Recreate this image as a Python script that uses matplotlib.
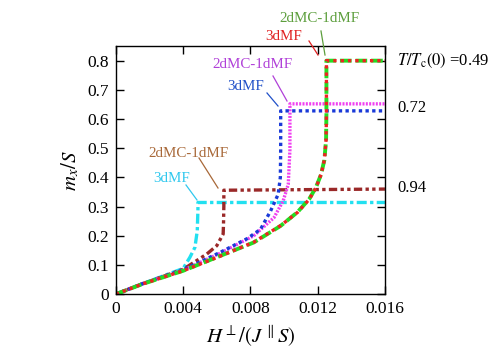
import matplotlib
matplotlib.use("Agg")
import matplotlib.pyplot as plt
import numpy as np

plt.rcParams['font.family'] = ['Liberation Serif', 'DejaVu Serif']
plt.rcParams['mathtext.fontset'] = 'stix'

# T/Tc(0) = 0.49
h_049_mf = [0, 0.0016, 0.004, 0.0062, 0.0082, 0.0098, 0.0108, 0.0115, 0.0119, 0.0122, 0.0124, 0.0125, 0.01252, 0.01252, 0.016]
m_049_mf = [0, 0.035, 0.080, 0.130, 0.178, 0.235, 0.280, 0.325, 0.365, 0.410, 0.460, 0.530, 0.620, 0.8, 0.8]
h_049_mc = [0, 0.0016, 0.004, 0.0062, 0.0082, 0.0098, 0.0108, 0.0115, 0.0119, 0.0122, 0.0124, 0.0125, 0.01252, 0.01252, 0.016]
m_049_mc = [0, 0.035, 0.080, 0.131, 0.177, 0.234, 0.281, 0.326, 0.366, 0.410, 0.460, 0.530, 0.620, 0.8, 0.8]

# T/Tc(0) = 0.72
h_072_mf = [0, 0.0016, 0.004, 0.0062, 0.0078, 0.0086, 0.0092, 0.00965, 0.00978, 0.0098, 0.0098, 0.016]
m_072_mf = [0, 0.036, 0.083, 0.143, 0.190, 0.222, 0.285, 0.342, 0.400, 0.495, 0.628, 0.628]
h_072_mc = [0, 0.0016, 0.004, 0.0062, 0.0082, 0.0094, 0.00995, 0.01025, 0.01035, 0.01035, 0.016]
m_072_mc = [0, 0.036, 0.082, 0.140, 0.200, 0.262, 0.320, 0.376, 0.495, 0.652, 0.652]

# T/Tc(0) = 0.94
h_094_mf = [0, 0.0016, 0.004, 0.0044, 0.0047, 0.00484, 0.00488, 0.00488, 0.016]
m_094_mf = [0, 0.036, 0.088, 0.126, 0.160, 0.217, 0.290, 0.314, 0.314]
h_094_mc = [0, 0.0016, 0.004, 0.0054, 0.006, 0.00638, 0.0064, 0.00642, 0.00642, 0.016]
m_094_mc = [0, 0.036, 0.085, 0.137, 0.166, 0.206, 0.240, 0.300, 0.356, 0.360]

fig = plt.figure(figsize=(4.91, 3.6), dpi=100)
ax = fig.add_axes([0.236, 0.183, 0.548, 0.689])

lw = 2.4
ax.plot(h_094_mf, m_094_mf, color='#22e0f0', lw=lw, linestyle=(0, (3, 1, 1, 1)))
ax.plot(h_094_mc, m_094_mc, color='#9a2828', lw=lw, linestyle=(0, (2.5, 1, 1, 1, 1, 1)))
ax.plot(h_072_mc, m_072_mc, color='#f040f0', lw=lw, linestyle=(0, (0.6, 0.4)))
ax.plot(h_072_mf, m_072_mf, color='#1a3ad8', lw=lw, linestyle=(0, (1, 1)))
ax.plot(h_049_mc, m_049_mc, color='#22dd22', lw=lw + 0.4, linestyle=(0, (3, 1)))
ax.plot(h_049_mf, m_049_mf, color='#ee2222', lw=lw, linestyle=(0, (1, 1.2)))

ax.set_xlim(0, 0.016)
ax.set_ylim(0, 0.85)
ax.set_xticks([0, 0.004, 0.008, 0.012, 0.016])
ax.set_xticklabels(['0', '0.004', '0.008', '0.012', '0.016'])
ax.set_yticks([0, 0.1, 0.2, 0.3, 0.4, 0.5, 0.6, 0.7, 0.8])
ax.set_yticklabels(['0', '0.1', '0.2', '0.3', '0.4', '0.5', '0.6', '0.7', '0.8'])
ax.tick_params(direction='in', top=True, right=True, length=6, width=1, labelsize=12.5, pad=5)
for s in ax.spines.values():
    s.set_linewidth(1)

ax.set_xlabel(r'$H^{\perp}/(J^{\,\parallel}S)$', fontsize=15, labelpad=5)
ax.set_ylabel(r'$m_x/S$', fontsize=15, labelpad=4)

def px(x, y):
    return (x / 491.0, 1 - y / 360.0)

# curve labels with leader lines (figure pixel coords)
labels = [
    ('2dMC-1dMF', '#5c9e3c', (319, 18), (321, 31), (325, 55)),
    ('3dMF', '#e02020', (284, 37), (309, 41), (318, 55)),
    ('2dMC-1dMF', '#b040d8', (252, 65), (273, 76), (287, 101)),
    ('3dMF', '#2050c8', (246, 86), (267, 93), (278, 106)),
    ('2dMC-1dMF', '#a86838', (188, 153), (199, 158), (218, 188)),
    ('3dMF', '#30c8ee', (172, 178), (186, 185), (197, 200)),
]
for txt, c, tp, p0, p1 in labels:
    fig.text(*px(*tp), txt, color=c, fontsize=10.8, ha='center', va='center')
    fig.add_artist(plt.Line2D([p0[0] / 491, p1[0] / 491], [1 - p0[1] / 360, 1 - p1[1] / 360],
                              color=c, lw=0.9, transform=fig.transFigure))

fig.text(*px(397, 61), r'$T/T_{\rm c}(0)$ =0.49', fontsize=12, ha='left', va='center')
fig.text(*px(397, 108), '0.72', fontsize=12, ha='left', va='center')
fig.text(*px(397, 188), '0.94', fontsize=12, ha='left', va='center')

fig.savefig('out.png', dpi=100)
